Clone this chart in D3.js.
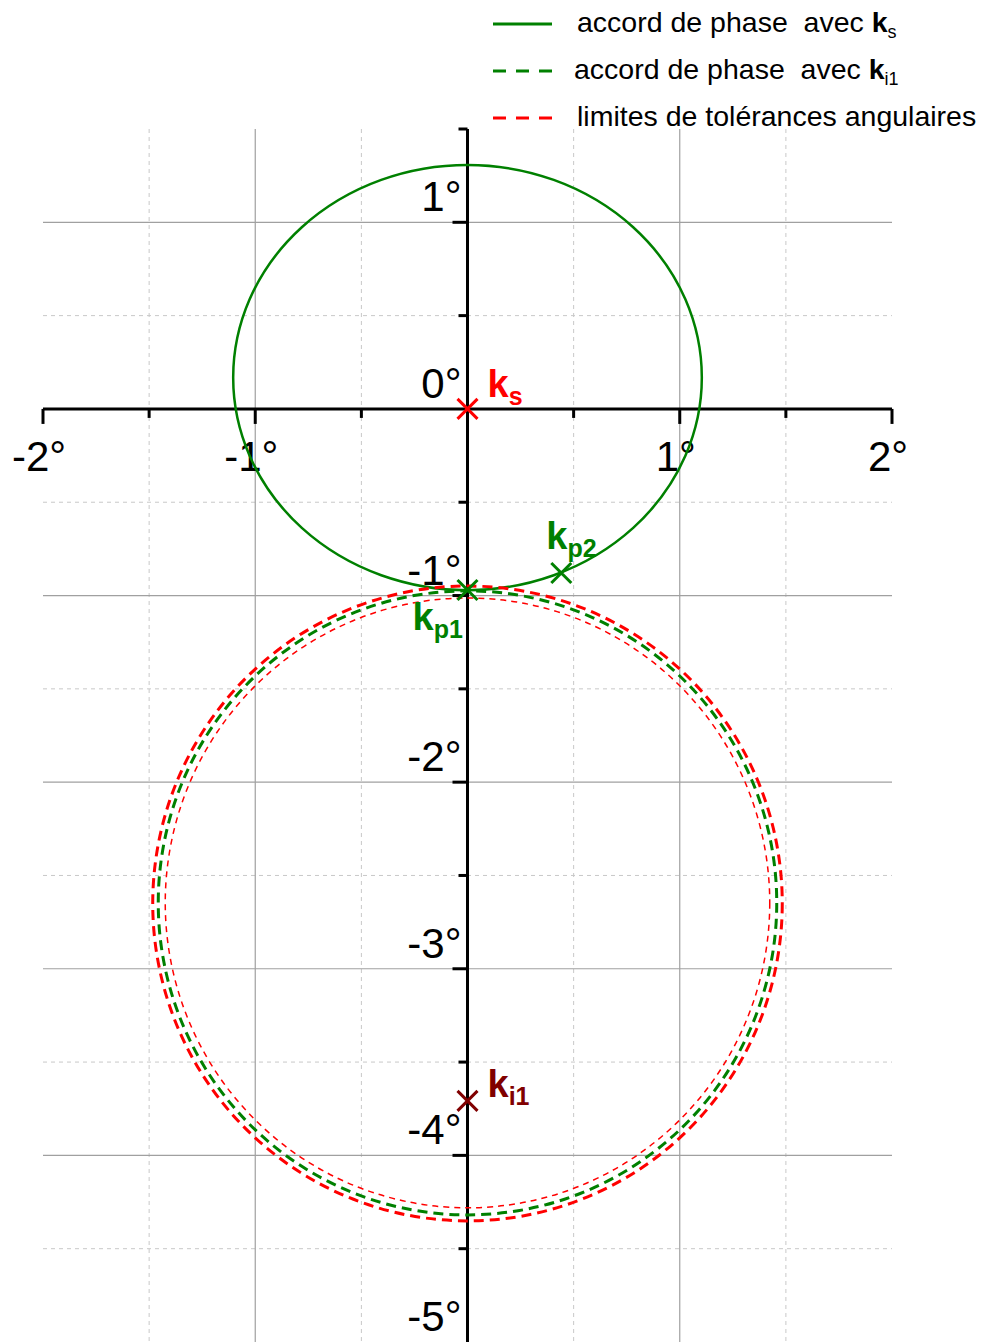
<!DOCTYPE html>
<html>
<head>
<meta charset="utf-8">
<script src="https://cdn.jsdelivr.net/npm/d3@7"></script>
<style>
  html, body { margin: 0; padding: 0; background: #fff; }
  svg { display: block; font-family: "Liberation Sans", Arial, sans-serif; }
  text { white-space: pre; }
</style>
</head>
<body>
<svg id="chart" width="990" height="1342"></svg>
<script>
// Angular axes (degrees)
const xDomain = [-2, 2];
const yDomain = [-5, 1.5];
const xTickValues = [-2, -1, 1, 2];
const xTickLabels = ["-2°", "-1°", "1°", "2°"];
const yTickValues = [1, 0, -1, -2, -3, -4, -5];
const yTickLabels = ["1°", "0°", "-1°", "-2°", "-3°", "-4°", "-5°"];
const xMinorTicks = [-1.5, -0.5, 0.5, 1.5];
const yMinorTicks = [1.5, 0.5, -0.5, -1.5, -2.5, -3.5, -4.5];

// Phase-matching curves: centre and half-axes in degrees
const curveIds    = ["ks", "ki1", "tolOuter", "tolInner"];
const curveCx     = [0, 0, 0, 0];
const curveCy     = [0.168, -2.647, -2.650, -2.647];
const curveRx     = [1.104, 1.457, 1.483, 1.424];
const curveRy     = [1.139, 1.672, 1.701, 1.634];

// Wave vectors
const pointNames = ["k", "k", "k", "k"];
const pointSubs  = ["s", "p1", "p2", "i1"];
const pointX     = [0, 0, 0.442, 0];
const pointY     = [0, -0.97, -0.879, -3.708];

// Legend entries
const legendMain = ["accord de phase  avec ", "accord de phase  avec ", "limites de tolérances angulaires"];
const legendBold = ["k", "k", ""];
const legendSub  = ["s", "i1", ""];

const GREEN = "#008000", RED = "#ff0000", DARKRED = "#800000";

const svg = d3.select("#chart");
const x = d3.scaleLinear().domain(xDomain).range([43, 892]);
const y = d3.scaleLinear().domain(yDomain).range([1342, 129]);

// ---- grid ----
const grid = svg.append("g");
const xGridMajor = [-1, 1], xGridMinor = xMinorTicks;
const yGridMajor = [1, -1, -2, -3, -4], yGridMinor = yMinorTicks.filter(v => v < 1.5);
grid.selectAll(".vminor").data(xGridMinor).join("line")
  .attr("x1", d => x(d)).attr("x2", d => x(d)).attr("y1", y(1.5)).attr("y2", y(-5))
  .attr("stroke", "#c8c8c8").attr("stroke-width", 1).attr("stroke-dasharray", "4,4");
grid.selectAll(".hminor").data(yGridMinor).join("line")
  .attr("y1", d => y(d)).attr("y2", d => y(d)).attr("x1", x(-2)).attr("x2", x(2))
  .attr("stroke", "#c8c8c8").attr("stroke-width", 1).attr("stroke-dasharray", "4,4");
grid.selectAll(".vmajor").data(xGridMajor).join("line")
  .attr("x1", d => x(d)).attr("x2", d => x(d)).attr("y1", y(1.5)).attr("y2", y(-5))
  .attr("stroke", "#a0a0a0").attr("stroke-width", 1.2);
grid.selectAll(".hmajor").data(yGridMajor).join("line")
  .attr("y1", d => y(d)).attr("y2", d => y(d)).attr("x1", x(-2)).attr("x2", x(2))
  .attr("stroke", "#a0a0a0").attr("stroke-width", 1.2);

// ---- axes ----
const axes = svg.append("g").attr("stroke", "#000").attr("stroke-width", 3);
axes.append("line").attr("x1", x(-2)).attr("x2", x(2)).attr("y1", y(0)).attr("y2", y(0));
axes.append("line").attr("x1", x(0)).attr("x2", x(0)).attr("y1", y(1.5)).attr("y2", y(-5));
axes.selectAll(".xt").data([-2, -1, 1, 2]).join("line")
  .attr("x1", d => x(d)).attr("x2", d => x(d)).attr("y1", y(0)).attr("y2", y(0) + 15);
axes.selectAll(".xtm").data(xMinorTicks).join("line")
  .attr("x1", d => x(d)).attr("x2", d => x(d)).attr("y1", y(0)).attr("y2", y(0) + 9);
axes.selectAll(".yt").data([1, -1, -2, -3, -4]).join("line")
  .attr("y1", d => y(d)).attr("y2", d => y(d)).attr("x1", x(0)).attr("x2", x(0) - 15);
axes.selectAll(".ytm").data(yMinorTicks).join("line")
  .attr("y1", d => y(d)).attr("y2", d => y(d)).attr("x1", x(0)).attr("x2", x(0) - 9);

// tick labels
svg.append("g").selectAll("text").data(xTickValues).join("text")
  .attr("x", d => x(d) - 4).attr("y", y(0) + 62)
  .attr("text-anchor", "middle").attr("font-size", 42).attr("fill", "#000")
  .text((d, i) => xTickLabels[i]);
svg.append("g").selectAll("text").data(yTickValues).join("text")
  .attr("x", x(0) - 6).attr("y", d => y(d) - 11)
  .attr("text-anchor", "end").attr("font-size", 42).attr("fill", "#000")
  .text((d, i) => yTickLabels[i]);

// ---- curves ----
const curveStyle = {
  ks:       { stroke: GREEN, width: 2.5, dash: null },
  ki1:      { stroke: GREEN, width: 3,   dash: "10,6" },
  tolOuter: { stroke: RED,   width: 3,   dash: "10,6" },
  tolInner: { stroke: RED,   width: 1.5, dash: "6,5" }
};
const curves = curveIds.map((id, i) => ({ id, cx: curveCx[i], cy: curveCy[i], rx: curveRx[i], ry: curveRy[i] }));
svg.append("g").selectAll("ellipse").data(curves).join("ellipse")
  .attr("cx", d => x(d.cx)).attr("cy", d => y(d.cy))
  .attr("rx", d => x(d.rx) - x(0)).attr("ry", d => y(0) - y(d.ry))
  .attr("fill", "none")
  .attr("stroke", d => curveStyle[d.id].stroke)
  .attr("stroke-width", d => curveStyle[d.id].width)
  .attr("stroke-dasharray", d => curveStyle[d.id].dash);

// ---- wave-vector markers ----
const pointColor = [RED, GREEN, GREEN, DARKRED];
const labelDx = [20, -55, -15, 20];
const labelDy = [-12, 40, -24, -4];
const points = pointNames.map((n, i) => ({ n, sub: pointSubs[i], x: pointX[i], y: pointY[i], c: pointColor[i], dx: labelDx[i], dy: labelDy[i] }));
const pg = svg.append("g");
pg.selectAll("path").data(points).join("path")
  .attr("transform", d => `translate(${x(d.x)},${y(d.y)})`)
  .attr("d", "M-10,-10L10,10M-10,10L10,-10")
  .attr("stroke", d => d.c).attr("stroke-width", 3).attr("fill", "none");
const lbl = pg.selectAll("text").data(points).join("text")
  .attr("x", d => x(d.x) + d.dx).attr("y", d => y(d.y) + d.dy)
  .attr("fill", d => d.c).attr("font-weight", "bold");
lbl.append("tspan").attr("font-size", 38).text(d => d.n);
lbl.append("tspan").attr("font-size", 25).attr("dy", 8).text(d => d.sub);

// ---- legend ----
const legendStyle = [
  { stroke: GREEN, dash: null },
  { stroke: GREEN, dash: "13,10" },
  { stroke: RED,   dash: "13,10" }
];
const legendY = [24, 71, 118];
const legendTextX = [577, 574, 577];
const lg = svg.append("g");
legendMain.forEach((t, i) => {
  lg.append("line").attr("x1", 493).attr("x2", 552).attr("y1", legendY[i]).attr("y2", legendY[i])
    .attr("stroke", legendStyle[i].stroke).attr("stroke-width", 3)
    .attr("stroke-dasharray", legendStyle[i].dash);
  const tx = lg.append("text").attr("x", legendTextX[i]).attr("y", legendY[i] + 8)
    .attr("font-size", 28.5).attr("fill", "#000");
  tx.append("tspan").text(t);
  if (legendBold[i]) {
    tx.append("tspan").attr("font-weight", "bold").text(legendBold[i]);
    tx.append("tspan").attr("font-size", 18).attr("dy", 6).text(legendSub[i]);
  }
});
</script>
</body>
</html>
